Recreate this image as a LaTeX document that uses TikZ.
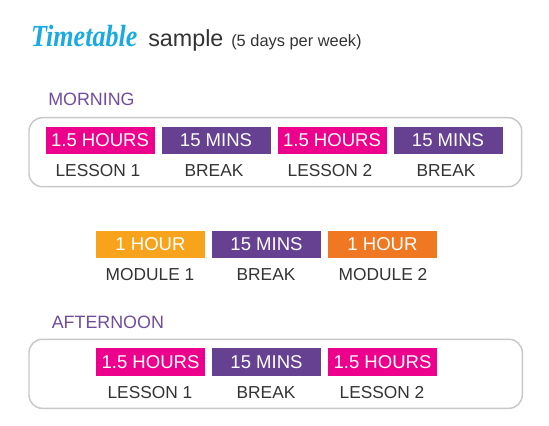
\documentclass[tikz,border=0pt]{standalone}
\usepackage{fontspec}
\setmainfont{Liberation Sans}
\newfontfamily\titlefont{Liberation Serif}
\definecolor{tpink}{RGB}{236,0,140}
\definecolor{tpurple}{RGB}{102,64,145}
\definecolor{torangeA}{RGB}{248,163,28}
\definecolor{torangeB}{RGB}{241,120,34}
\definecolor{tlabel}{RGB}{51,51,51}
\definecolor{thead}{RGB}{112,76,156}
\definecolor{tcyan}{RGB}{27,169,225}
\definecolor{tframe}{RGB}{200,200,200}
\begin{document}
\begin{tikzpicture}[x=0.75pt,y=-0.75pt,
  slot/.style={rectangle,minimum width=81.75pt,minimum height=20.5pt,inner sep=0pt,text=white,font=\fontsize{13.9pt}{15pt}\selectfont},
  pinkslot/.style={slot,fill=tpink},
  purpleslot/.style={slot,fill=tpurple},
  orangeA/.style={slot,fill=torangeA},
  orangeB/.style={slot,fill=torangeB},
  lbl/.style={anchor=base,inner sep=0pt,text=tlabel,font=\fontsize{13pt}{15pt}\selectfont},
  head/.style={anchor=base west,inner sep=0pt,text=thead,font=\fontsize{13.4pt}{15pt}\selectfont},
  frame/.style={draw=tframe,line width=1.1pt,rounded corners=10pt}]
\useasboundingbox (0,0) rectangle (549,425);
% title
\node[anchor=base west,inner sep=0pt,xscale=0.85,text=tcyan,font=\titlefont\bfseries\itshape\fontsize{23pt}{25pt}\selectfont] (title) at (31,46) {Timetable};
\node[anchor=base west,inner sep=0pt,text=tlabel,font=\fontsize{17.5pt}{19pt}\selectfont] (sample) at (148,46) {sample};
\node[anchor=base west,inner sep=0pt,text=tlabel,font=\fontsize{12.3pt}{14pt}\selectfont] (sub) at (231,46) {(5 days per week)};
% morning
\node[head] (mhead) at (48,105) {MORNING};
\draw[frame] (29,117.7) rectangle (521.7,186.7);
\node[pinkslot] (m1) at (100,140.5) {1.5 HOURS};
\node[purpleslot] (m2) at (216,140.5) {15 MINS};
\node[pinkslot] (m3) at (332,140.5) {1.5 HOURS};
\node[purpleslot] (m4) at (448,140.5) {15 MINS};
\node[lbl] (ml1) at (98,176.5) {LESSON 1};
\node[lbl] (ml2) at (214,176.5) {BREAK};
\node[lbl] (ml3) at (330,176.5) {LESSON 2};
\node[lbl] (ml4) at (446,176.5) {BREAK};
% middle
\node[orangeA] (d1) at (150.5,244.2) {1 HOUR};
\node[purpleslot] (d2) at (266.5,244.2) {15 MINS};
\node[orangeB] (d3) at (382.5,244.2) {1 HOUR};
\node[lbl] (dl1) at (150,280) {MODULE 1};
\node[lbl] (dl2) at (266,280) {BREAK};
\node[lbl] (dl3) at (383,280) {MODULE 2};
% afternoon
\node[head] (ahead) at (51.5,328.3) {AFTERNOON};
\draw[frame] (29,339.3) rectangle (522.3,408.3);
\node[pinkslot] (a1) at (150.5,362) {1.5 HOURS};
\node[purpleslot] (a2) at (266.5,362) {15 MINS};
\node[pinkslot] (a3) at (382.5,362) {1.5 HOURS};
\node[lbl] (al1) at (150,398.3) {LESSON 1};
\node[lbl] (al2) at (266,398.3) {BREAK};
\node[lbl] (al3) at (382,398.3) {LESSON 2};
\end{tikzpicture}
\end{document}
